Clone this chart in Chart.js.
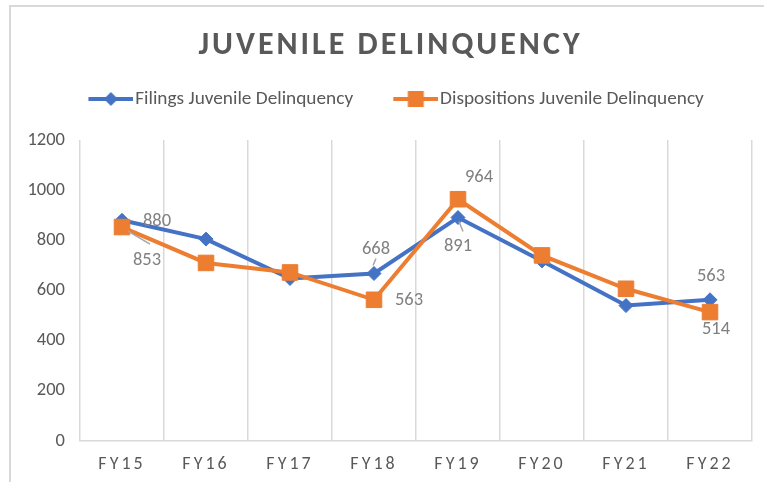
<!DOCTYPE html>
<html>
<head>
<meta charset="utf-8">
<script src="https://cdn.jsdelivr.net/npm/chart.js@4"></script>
<style>
  html, body { margin: 0; padding: 0; background: #fff; overflow: hidden; }
  #wrap { position: absolute; left: 0; top: 0; width: 764px; height: 482px; }
</style>
</head>
<body>
<div id="wrap"><canvas id="chart"></canvas></div>
<script>
// data
const years = ["FY15", "FY16", "FY17", "FY18", "FY19", "FY20", "FY21", "FY22"];
const filings = [880, 805, 648, 668, 891, 718, 540, 563];
const dispositions = [853, 710, 672, 563, 964, 740, 607, 514];
const yTicks = [0, 200, 400, 600, 800, 1000, 1200];
// points that carry a value label (index into the arrays above)
const filingsLabelled = [0, 3, 4, 7];
const dispositionsLabelled = [0, 3, 4, 7];

const FONT = "Carlito, 'Liberation Sans', sans-serif";
const BLUE = "#4472C4";
const ORANGE = "#ED7D31";
const GRID = "#d9d9d9";

// where each label sits relative to its point: [dx, dy, leader line or null]
const labelPlace = [
  { 0: [35, 1, null], 3: [2, -24, [-1, -8, 2, -15]], 4: [0, 29, [1, 4, 5, 14]], 7: [1, -23, null] },
  { 0: [25, 33, [6, 4, 28, 17]], 3: [35, 1, null], 4: [21, -22, null], 7: [6, 17, null] }
];
const labelledIdx = [filingsLabelled, dispositionsLabelled];

const valueLabels = {
  id: "valueLabels",
  afterDatasetsDraw(chart) {
    const ctx = chart.ctx;
    ctx.save();
    ctx.font = "18.5px " + FONT;
    ctx.textAlign = "center";
    ctx.textBaseline = "middle";
    chart.data.datasets.forEach((ds, di) => {
      const meta = chart.getDatasetMeta(di);
      labelledIdx[di].forEach(i => {
        const p = meta.data[i];
        const [dx, dy, lead] = labelPlace[di][i];
        if (lead) {
          ctx.strokeStyle = "#a6a6a6";
          ctx.lineWidth = 1.5;
          ctx.beginPath();
          ctx.moveTo(p.x + lead[0], p.y + lead[1]);
          ctx.lineTo(p.x + lead[2], p.y + lead[3]);
          ctx.stroke();
        }
        ctx.fillStyle = "#808080";
        ctx.fillText(ds.data[i], p.x + dx, p.y + dy);
      });
    });
    ctx.restore();
  }
};

// letter spacing for the title and the category labels
function spaced(obj, key, amount) {
  if (!obj || obj["_sp_" + key]) return;
  const orig = obj[key];
  obj[key] = function (...args) {
    const ctx = this.ctx;
    const prev = ctx.letterSpacing;
    ctx.letterSpacing = amount;
    orig.apply(this, args);
    ctx.letterSpacing = prev;
  };
  obj["_sp_" + key] = true;
}

const frame = {
  id: "frame",
  beforeDraw(chart) {
    spaced(chart.titleBlock, "draw", "3px");
    spaced(chart.scales.x, "drawLabels", "3px");
    const ctx = chart.ctx;
    ctx.save();
    ctx.strokeStyle = GRID;
    ctx.lineWidth = 2;
    ctx.beginPath();
    ctx.moveTo(10, 482);
    ctx.lineTo(10, 6);
    ctx.lineTo(764, 6);
    ctx.stroke();
    ctx.restore();
  }
};

// legend icons: line with its marker, in the right 45px of the image
function legendIcon(color, style) {
  const c = document.createElement("canvas");
  c.width = 64;
  c.height = 18;
  const g = c.getContext("2d");
  g.strokeStyle = color;
  g.fillStyle = color;
  g.lineWidth = 4;
  g.beginPath();
  g.moveTo(19, 9);
  g.lineTo(64, 9);
  g.stroke();
  const cx = 41.5;
  g.beginPath();
  if (style === "diamond") {
    g.moveTo(cx - 7, 9); g.lineTo(cx, 2); g.lineTo(cx + 7, 9); g.lineTo(cx, 16);
  } else {
    g.rect(cx - 8, 1, 16, 16);
  }
  g.fill();
  return c;
}
const icons = [legendIcon(BLUE, "diamond"), legendIcon(ORANGE, "square")];

new Chart(document.getElementById("chart"), {
  type: "line",
  data: {
    labels: years,
    datasets: [
      {
        label: "Filings Juvenile Delinquency",
        data: filings,
        borderColor: BLUE,
        backgroundColor: BLUE,
        borderWidth: 4,
        pointStyle: "rectRot",
        pointRadius: 7,
        pointBorderWidth: 1,
        order: 1
      },
      {
        label: "Dispositions Juvenile Delinquency",
        data: dispositions,
        borderColor: ORANGE,
        backgroundColor: ORANGE,
        borderWidth: 4,
        pointStyle: "rect",
        pointRadius: 11,
        pointBorderWidth: 1,
        order: 0
      }
    ]
  },
  options: {
    responsive: true,
    maintainAspectRatio: false,
    animation: false,
    layout: { padding: { left: 28, right: 11, top: 0, bottom: 0 } },
    plugins: {
      tooltip: { enabled: false },
      title: {
        display: true,
        text: "JUVENILE DELINQUENCY",
        color: "#595959",
        font: { family: FONT, size: 32, weight: "bold", lineHeight: 0.9 },
        padding: { top: 31.5, bottom: 0 }
      },
      // empty spacer between the legend and the plot
      subtitle: {
        display: true,
        text: "",
        weight: 500,
        padding: 0,
        font: { size: 21.45, lineHeight: 1 }
      },
      legend: {
        position: "top",
        labels: {
          usePointStyle: true,
          pointStyleWidth: 48.35,
          padding: 29,
          color: "#595959",
          font: { family: FONT, size: 19.3 },
          generateLabels(chart) {
            const items = Chart.defaults.plugins.legend.labels.generateLabels(chart);
            items.forEach(it => { it.pointStyle = icons[it.datasetIndex]; });
            return items.sort((a, b) => a.datasetIndex - b.datasetIndex);
          }
        }
      }
    },
    scales: {
      x: {
        offset: true,
        grid: { display: true, offset: true, drawTicks: false, color: GRID, lineWidth: 1.5 },
        border: { display: true, color: GRID, width: 1.5 },
        ticks: { color: "#595959", font: { family: FONT, size: 18 }, padding: 13 },
        afterFit(scale) { scale.height = 41; }
      },
      y: {
        min: 0,
        max: 1200,
        grid: { display: false, drawTicks: false },
        border: { display: false },
        ticks: {
          color: "#595959",
          font: { family: FONT, size: 18.5 },
          padding: 15,
          callback: v => String(v)
        },
        afterBuildTicks(scale) { scale.ticks = yTicks.map(v => ({ value: v })); },
        afterFit(scale) { scale.width = 52; }
      }
    }
  },
  plugins: [valueLabels, frame]
});
</script>
</body>
</html>
